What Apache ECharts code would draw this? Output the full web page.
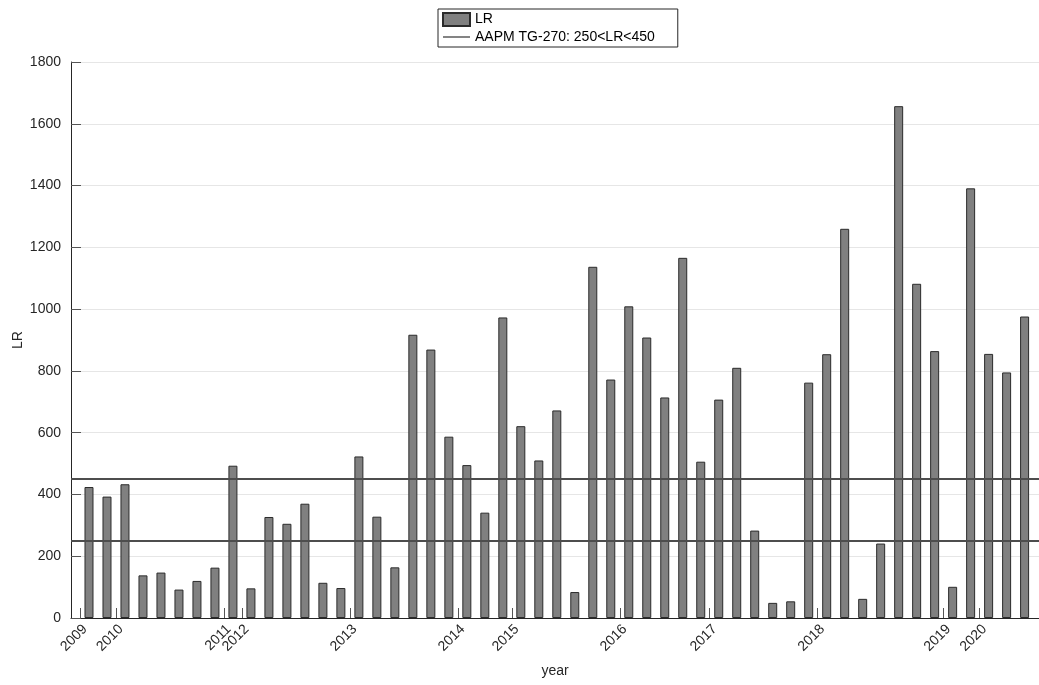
<!DOCTYPE html>
<html>
<head>
<meta charset="utf-8">
<script src="https://cdn.jsdelivr.net/npm/echarts@6/dist/echarts.min.js"></script>
<style>
  html, body { margin: 0; padding: 0; background: #fff; }
  #chart { width: 1039px; height: 685px; }
</style>
</head>
<body>
<div id="chart"></div>
<script>
// LR value per period (bar index 0..52)
const lrValues = [
    424, 393, 433, 138, 147, 92, 120, 163, 493, 96,
    327, 305, 370, 114, 97, 523, 328, 164, 917, 869,
    587, 495, 341, 973, 621, 510, 672, 84, 1137, 772,
    1009, 908, 714, 1166, 506, 707, 810, 283, 49, 54,
    762, 854, 1260, 62, 241, 1657, 1082, 864, 101, 1391,
    855, 795, 976
];

// year boundaries sit between bars
const years = ['2009', '2010', '2011', '2012', '2013', '2014', '2015', '2016', '2017', '2018', '2019', '2020'];
const yearTickPos = [-0.5, 1.5, 7.5, 8.5, 14.5, 20.5, 23.5, 29.5, 34.5, 40.5, 47.5, 49.5];

// AAPM TG-270 range
const guideLevels = [250, 450];

const AXIS_COLOR = '#262626';
const FONT = 'Liberation Sans, Arial, Helvetica, sans-serif';
const GUIDE_NAME = 'AAPM TG-270: 250<LR<450';

const chart = echarts.init(document.getElementById('chart'));

const option = {
    animation: false,
    textStyle: { fontFamily: FONT },
    legend: {
        left: 438,
        top: 9,
        orient: 'vertical',
        padding: [3, 23, 3, 4],
        itemGap: 3,
        itemWidth: 27,
        itemHeight: 13,
        borderColor: AXIS_COLOR,
        borderWidth: 1,
        borderRadius: 0,
        backgroundColor: '#fff',
        textStyle: { fontSize: 14, color: '#000', fontFamily: FONT },
        data: [
            { name: 'LR', icon: 'rect' },
            { name: GUIDE_NAME, icon: 'path://M0,0 L28,0 L28,1.5 L0,1.5 Z' }
        ]
    },
    grid: {
        left: 71,
        right: 0,
        top: 62,
        bottom: 67,
        containLabel: false,
        outerBoundsMode: 'none'
    },
    xAxis: {
        type: 'value',
        min: -1,
        max: 52.8,
        name: 'year',
        nameLocation: 'middle',
        nameGap: 46,
        nameMoveOverlap: false,
        nameTextStyle: { fontSize: 14, color: AXIS_COLOR },
        axisLine: { show: true, onZero: false, lineStyle: { color: AXIS_COLOR, width: 1 } },
        axisTick: {
            show: true,
            inside: true,
            length: 10,
            customValues: yearTickPos,
            lineStyle: { color: '#555' }
        },
        axisLabel: {
            customValues: yearTickPos,
            rotate: 45,
            margin: 4,
            verticalAlign: 'top',
            fontSize: 14,
            color: AXIS_COLOR,
            formatter: (v) => years[yearTickPos.indexOf(v)] || ''
        },
        splitLine: { show: false }
    },
    yAxis: {
        type: 'value',
        min: 0,
        max: 1800,
        interval: 200,
        name: 'LR',
        nameLocation: 'middle',
        nameGap: 53,
        nameRotate: 90,
        nameMoveOverlap: false,
        nameTextStyle: {
            fontSize: 14,
            color: AXIS_COLOR,
            align: 'center',
            verticalAlign: 'middle'
        },
        axisLine: { show: true, onZero: false, lineStyle: { color: AXIS_COLOR, width: 1 } },
        axisTick: { show: true, inside: true, length: 10, lineStyle: { color: '#555' } },
        axisLabel: {
            fontSize: 14,
            color: AXIS_COLOR,
            margin: 10,
            formatter: (v) => String(v)
        },
        splitLine: { show: true, lineStyle: { color: '#e6e6e6', width: 1 } }
    },
    series: [
        {
            name: 'LR',
            type: 'bar',
            barWidth: 9,
            data: lrValues.map((v, i) => [i, v]),
            itemStyle: {
                color: '#808080',
                borderColor: '#2b2b2b',
                borderWidth: 1
            }
        },
        {
            name: GUIDE_NAME,
            type: 'line',
            data: [],
            symbol: 'none',
            lineStyle: { color: '#555', width: 1.5 },
            itemStyle: { color: '#555' },
            markLine: {
                silent: true,
                symbol: 'none',
                label: { show: false },
                lineStyle: { color: '#4d4d4d', width: 2, type: 'solid' },
                data: guideLevels.map(v => ({ yAxis: v }))
            }
        }
    ]
};

chart.setOption(option);

window.addEventListener('resize', () => {
    chart.resize();
});
</script>
</body>
</html>
